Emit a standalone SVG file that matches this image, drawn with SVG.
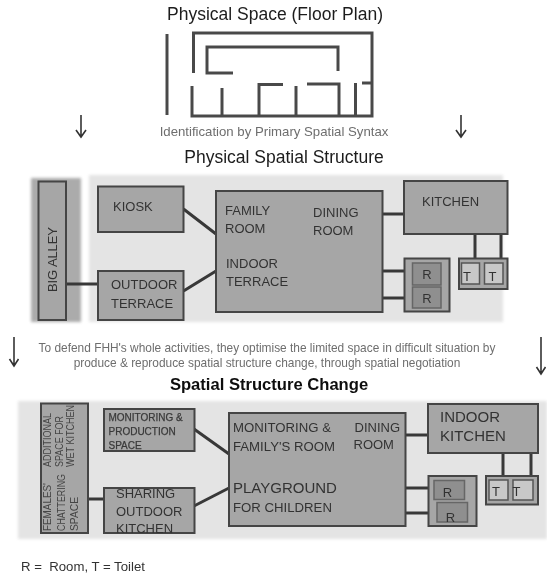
<svg xmlns="http://www.w3.org/2000/svg" width="547" height="573" viewBox="0 0 547 573">
<style>
text{font-family:"Liberation Sans",Arial,sans-serif;fill:#333}
.title{font-size:17.5px;fill:#1c1c1c}
.cap{font-size:11.9px;fill:#6e6e6e}
.l{font-size:13px}
.m{font-size:13.2px}
.s{font-size:10px;fill:#3a3a3a;stroke:#3a3a3a;stroke-width:.25}
.v{font-size:10px;fill:#444}
.b{fill:#a6a6a6;stroke:#444;stroke-width:2}
.i{fill:#8f8f8f;stroke:#666;stroke-width:1.5}
.t{fill:#c8c8c8;stroke:#555;stroke-width:1.5}
.c{fill:none;stroke:#383838;stroke-width:3}
.p{fill:none;stroke:#4a4a4a;stroke-width:3}
.a{fill:none;stroke:#333;stroke-width:1.6}
</style>
<defs>
<filter id="soft" x="-5%" y="-5%" width="110%" height="110%"><feGaussianBlur stdDeviation="1.8"/></filter>
<filter id="crisp" x="-2%" y="-2%" width="104%" height="104%"><feGaussianBlur stdDeviation="0.35"/></filter>
</defs>
<rect width="547" height="573" fill="#fff"/>
<g filter="url(#soft)">
<rect x="89" y="175" width="414" height="147" fill="#e4e4e4"/>
<rect x="31" y="178" width="50" height="144" fill="#ababab"/>
<rect x="18" y="401" width="529" height="138" fill="#e4e4e4"/>
</g>
<g filter="url(#crisp)">
<g id="floor-plan" class="p">
<path d="M167 34V115M193.500 73V33H372V116H192V86M338 71V47H207V73H233M222 88V116M259 116V84.500H283M296 86V116M307 84H339V116M355.500 83V116M362 83H372"/>
</g>
<g id="connectors">
<path class="c" d="M66 284H98M183.500 209L216 234M183.500 291L216 271M382 214H404M382 271H404M382 298H404M475 234V258M501 234V258"/>
<path class="c" d="M87 499H104M194 429L229 454M194 506L229 488M405 435H428M405 488H428M405 513H428M503 453V476M531 453V476"/>
<path class="a" d="M81 115V137M76 130L81 137L86 130M461 115V137M456 130L461 137L466 130M14 337V366M9.500 359L14 366L18.500 359M541 337V374M536.500 367L541 374L545.500 367"/>
</g>
<g id="big-alley"><rect class="b" x="38.500" y="181.500" width="27.500" height="138.500"/><text class="l" transform="translate(57 292) rotate(-90)" textLength="65">BIG ALLEY</text></g>
<g id="kiosk"><rect class="b" x="98" y="186.500" width="85.500" height="45.500"/><text class="l" x="113" y="211">KIOSK</text></g>
<g id="outdoor-terrace"><rect class="b" x="98" y="271" width="85.500" height="49"/><text class="l" x="111" y="289">OUTDOOR</text><text class="l" x="111" y="308">TERRACE</text></g>
<g id="family-room"><rect class="b" x="216" y="191" width="166.500" height="121"/>
<text class="l" x="225" y="215">FAMILY</text><text class="l" x="225" y="233">ROOM</text>
<text class="l" x="226" y="268">INDOOR</text><text class="l" x="226" y="286">TERRACE</text>
<text class="l" x="313" y="217">DINING</text><text class="l" x="313" y="235">ROOM</text></g>
<g id="kitchen"><rect class="b" x="404" y="181" width="103.500" height="53"/><text class="l" x="422" y="206">KITCHEN</text></g>
<g id="rooms"><rect class="b" x="404.500" y="258.500" width="45" height="53"/>
<rect class="i" x="412.500" y="263" width="28.500" height="22"/><rect class="i" x="412.500" y="287" width="28.500" height="21"/>
<text class="l" x="427" y="279" text-anchor="middle">R</text><text class="l" x="427" y="303" text-anchor="middle">R</text></g>
<g id="toilets"><rect class="b" x="459" y="258.500" width="48.500" height="30.500"/>
<rect class="t" x="461.500" y="263" width="18" height="21"/><rect class="t" x="484.500" y="263" width="18.500" height="21"/>
<text class="l" x="467" y="281" text-anchor="middle">T</text><text class="l" x="492.500" y="281" text-anchor="middle">T</text></g>
<g id="females-space"><rect class="b" x="41" y="403.500" width="47" height="129.500"/>
<text class="v" transform="translate(50.500 467) rotate(-90)" textLength="54" lengthAdjust="spacingAndGlyphs">ADDITIONAL</text>
<text class="v" transform="translate(62.500 467) rotate(-90)" textLength="51" lengthAdjust="spacingAndGlyphs">SPACE FOR</text>
<text class="v" transform="translate(74 467) rotate(-90)" textLength="62" lengthAdjust="spacingAndGlyphs">WET KITCHEN</text>
<text class="v" transform="translate(51 531) rotate(-90)" textLength="48" lengthAdjust="spacingAndGlyphs">FEMALES'</text>
<text class="v" transform="translate(64.500 531) rotate(-90)" textLength="57" lengthAdjust="spacingAndGlyphs">CHATTERING</text>
<text class="v" transform="translate(78 531) rotate(-90)" textLength="34" lengthAdjust="spacingAndGlyphs">SPACE</text></g>
<g id="monitoring-production"><rect class="b" x="104" y="409" width="90.500" height="42"/>
<text class="s" x="108.500" y="421">MONITORING &amp;</text><text class="s" x="108.500" y="435">PRODUCTION</text><text class="s" x="108.500" y="449">SPACE</text></g>
<g id="sharing-kitchen"><rect class="b" x="104" y="488" width="90.500" height="45"/>
<text class="l" x="116" y="498">SHARING</text><text class="l" x="116" y="516">OUTDOOR</text><text class="l" x="116" y="533">KITCHEN</text></g>
<g id="monitoring-room"><rect class="b" x="229" y="413" width="176.500" height="113"/>
<text class="m" x="233" y="432">MONITORING &amp;</text><text class="m" x="233" y="451">FAMILY'S ROOM</text>
<text x="233" y="493" font-size="15">PLAYGROUND</text><text class="m" x="233" y="512">FOR CHILDREN</text>
<text class="l" x="354.500" y="432">DINING</text><text class="l" x="353.500" y="449">ROOM</text></g>
<g id="indoor-kitchen"><rect class="b" x="428" y="404" width="110" height="49"/>
<text x="440" y="422" font-size="15">INDOOR</text><text x="440" y="441" font-size="15">KITCHEN</text></g>
<g id="rooms-2"><rect class="b" x="428.500" y="476" width="48" height="50"/>
<rect class="i" x="434" y="480.500" width="30.500" height="19"/><rect class="i" x="437" y="502.500" width="30.500" height="19.500"/>
<text class="l" x="447.500" y="497" text-anchor="middle">R</text><text class="l" x="450.500" y="522" text-anchor="middle">R</text></g>
<g id="toilets-2"><rect class="b" x="486" y="476" width="52" height="28.500"/>
<rect class="t" x="489" y="480" width="19" height="20"/><rect class="t" x="513" y="480" width="20" height="20"/>
<text class="l" x="496" y="495.500" text-anchor="middle">T</text><text class="l" x="516.500" y="495.500" text-anchor="middle">T</text></g>
<g id="labels">
<text class="title" x="275" y="20" text-anchor="middle">Physical Space (Floor Plan)</text>
<text class="cap" x="274" y="136" text-anchor="middle" style="font-size:13.200px">Identification by Primary Spatial Syntax</text>
<text class="title" x="284" y="163" text-anchor="middle">Physical Spatial Structure</text>
<text class="cap" x="267" y="352" text-anchor="middle">To defend FHH's whole activities, they optimise the limited space in difficult situation by</text>
<text class="cap" x="267" y="367" text-anchor="middle">produce &amp; reproduce spatial structure change, through spatial negotiation</text>
<text x="269" y="390" text-anchor="middle" font-size="16.600" font-weight="bold" style="fill:#111">Spatial Structure Change</text>
<text x="21" y="571" font-size="13.200" xml:space="preserve">R =  Room, T = Toilet</text>
</g>
</g>
</svg>
